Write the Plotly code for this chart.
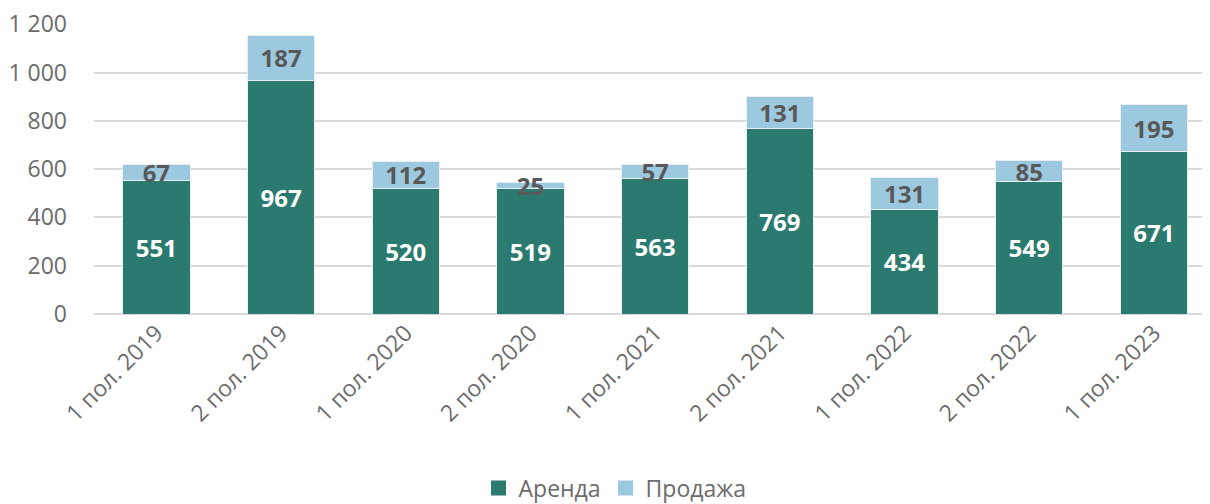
import plotly.graph_objects as go

categories = ["1 пол. 2019", "2 пол. 2019", "1 пол. 2020", "2 пол. 2020", "1 пол. 2021",
              "2 пол. 2021", "1 пол. 2022", "2 пол. 2022", "1 пол. 2023"]
rent = [551, 967, 520, 519, 563, 769, 434, 549, 671]
sale = [67, 187, 112, 25, 57, 131, 131, 85, 195]
y_ticks = [0, 200, 400, 600, 800, 1000, 1200]

FONT = "Open Sans"
C_RENT = "#2B7A6F"
C_SALE = "#9DC9E0"
GREY = "#6b6b6b"
FS = 23
FS_LBL = 24

fig = go.Figure()
fig.add_trace(go.Bar(
    x=categories, y=rent, name="Аренда", showlegend=False,
    marker=dict(color=C_RENT, line=dict(color="#e8f0ee", width=1)),
    text=rent, textposition="inside", insidetextanchor="middle", textangle=0,
    textfont=dict(family=FONT, size=FS_LBL, color="white", weight="bold"),
))
fig.add_trace(go.Bar(
    x=categories, y=sale, name="Продажа", showlegend=False,
    marker=dict(color=C_SALE, line=dict(color="#e8f0f4", width=1)),
    text=sale, textposition="inside", insidetextanchor="middle", textangle=0,
    textfont=dict(family=FONT, size=FS_LBL, color="#595959", weight="bold"),
))
# legend entries with square symbols
for name, col in [("Аренда", C_RENT), ("Продажа", C_SALE)]:
    fig.add_trace(go.Scatter(x=[None], y=[None], mode="markers", name=name,
                             marker=dict(symbol="square", size=15, color=col)))

fig.update_layout(
    barmode="stack", bargap=0.46,
    width=1202, height=496,
    margin=dict(l=86, r=0, t=16, b=190, autoexpand=False),
    plot_bgcolor="white", paper_bgcolor="white",
    separators=", ",
    font=dict(family=FONT, size=FS, color=GREY),
    uniformtext=dict(minsize=FS_LBL, mode="show"),
    legend=dict(orientation="h", xref="container", x=0.505, xanchor="center",
                yref="paper", y=-0.6, yanchor="middle",
                font=dict(family=FONT, size=FS, color=GREY),
                itemwidth=30, traceorder="normal", tracegroupgap=0),
    xaxis=dict(tickangle=-45, showgrid=False, tickfont=dict(size=FS, color=GREY),
               range=[-0.5, 8.45], automargin=False),
    yaxis=dict(range=[0, 1201], tickvals=y_ticks, tickformat=",d", gridcolor="#d9d9d9", gridwidth=1.5,
               zeroline=True, zerolinecolor="#d9d9d9", zerolinewidth=1.5, automargin=False,
               ticklabeloverflow="allow",
               tickfont=dict(size=FS, color=GREY), ticks="", ticklen=0, ticklabelstandoff=26),
)
fig.write_html("out.html")
